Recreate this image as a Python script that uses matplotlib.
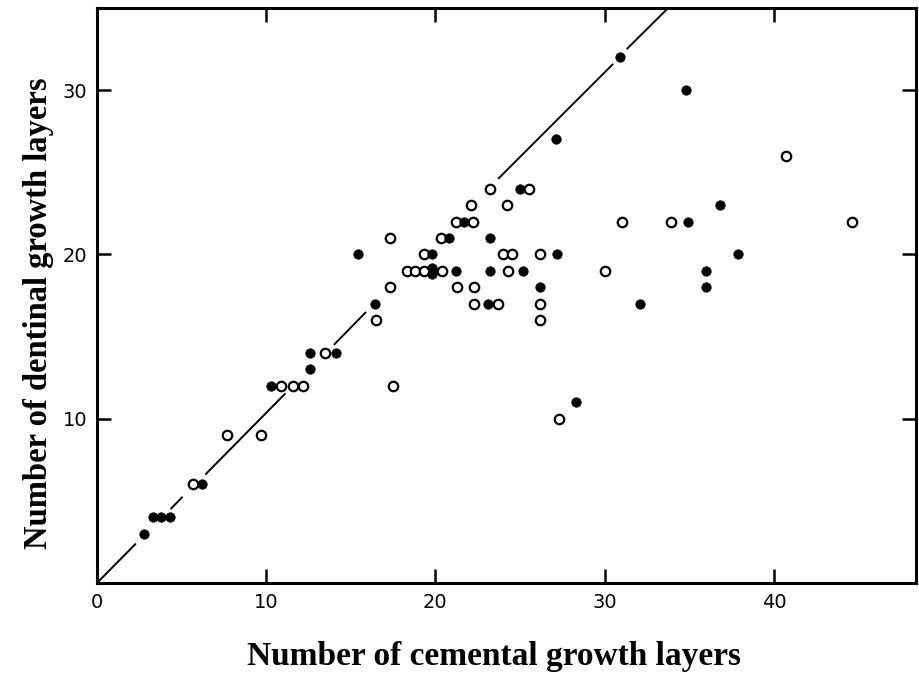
import matplotlib.pyplot as plt

# données : points pleins et points vides
plein_x = [2.8, 3.3, 3.8, 4.3, 6.2, 10.3, 12.6, 12.6, 14.1, 15.4, 16.4, 19.8, 19.8, 19.8,
           21.7, 20.8, 21.2, 23.2, 23.2, 23.1, 25.0, 25.2, 26.2, 27.2, 27.1, 28.3, 30.9,
           32.1, 34.8, 34.9, 36.0, 36.0, 36.8, 37.9]
plein_y = [3, 4, 4, 4, 6, 12, 13, 14, 14, 20, 17, 20, 19.2, 18.8,
           22, 21, 19, 21, 19, 17, 24, 19, 18, 20, 27, 11, 32,
           17, 30, 22, 19, 18, 23, 20]

vide_x = [5.7, 7.7, 9.7, 10.9, 11.6, 12.2, 13.5, 16.5, 17.3, 17.3, 17.5, 18.3, 18.8, 19.3,
          19.3, 20.4, 20.3, 21.2, 22.2, 22.1, 23.2, 25.5, 24.2, 24.0, 24.5, 26.2, 24.3,
          21.3, 22.3, 22.3, 23.7, 26.2, 26.2, 27.3, 30.0, 31.0, 33.9, 40.7, 44.6]
vide_y = [6, 9, 9, 12, 12, 12, 14, 16, 21, 18, 12, 19, 19, 19,
          20, 19, 21, 22, 22, 23, 24, 24, 23, 20, 20, 20, 19,
          18, 18, 17, 17, 17, 16, 10, 19, 22, 22, 26, 22]

# droite d'égalité, interrompue autour des points
ligne_x0 = [0.0, 4.35, 6.4, 14.0, 23.7, 31.3]
ligne_x1 = [2.3, 5.06, 11.14, 15.9, 30.5, 33.75]
ligne_y0 = [0.0, 4.5, 6.6, 14.5, 24.6, 32.5]
ligne_y1 = [2.4, 5.25, 11.55, 16.5, 31.6, 35.0]

x_ticks = [0, 10, 20, 30, 40]
y_ticks = [10, 20, 30]

fig = plt.figure(figsize=(9.2, 6.74), dpi=100)
ax = fig.add_axes([0.1054, 0.135, 0.8903, 0.853])

for xa, xb, ya, yb in zip(ligne_x0, ligne_x1, ligne_y0, ligne_y1):
    ax.plot([xa, xb], [ya, yb], color='black', lw=1.4, solid_capstyle='butt', zorder=1)

ax.plot(vide_x, vide_y, 'o', ms=6.8, mfc='white', mec='black', mew=1.6, zorder=3)
ax.plot(plein_x, plein_y, 'o', ms=6.8, mfc='black', mec='black', mew=0.5, zorder=4)

ax.set_xlim(0, 48.4)
ax.set_ylim(0, 35)
ax.set_xticks(x_ticks)
ax.set_yticks(y_ticks)

for s in ax.spines.values():
    s.set_linewidth(2.2)

ax.tick_params(direction='in', length=10, width=1.8, top=True, right=True,
               labelsize=14, pad=7)

ax.set_xlabel('Number of cemental growth layers', family='Liberation Serif',
              fontweight='bold', fontsize=24, labelpad=20)
ax.set_ylabel('Number of dentinal growth layers', family='Liberation Serif',
              fontweight='bold', fontsize=23.5, labelpad=16)
ax.xaxis.set_label_coords(0.485, -0.1)
ax.yaxis.set_label_coords(-0.052, 0.47)

plt.savefig('out.png', dpi=100)
plt.close()
